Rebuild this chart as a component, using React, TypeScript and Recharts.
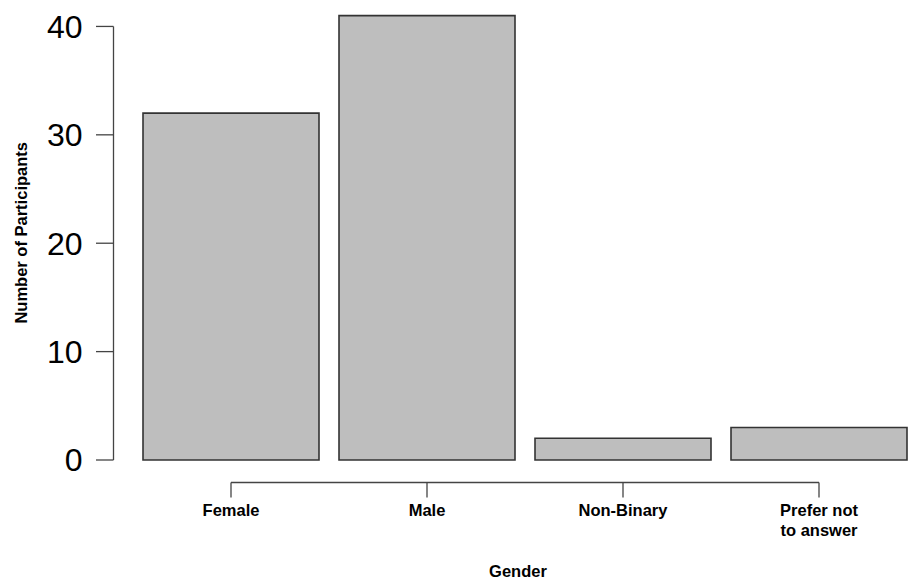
import React from "react";
import { BarChart, Bar, XAxis, YAxis, Label } from "recharts";

const categories = ["Female", "Male", "Non-Binary", "Prefer not to answer"];
const participants = [32, 41, 2, 3];
const tickLabelLines = [["Female"], ["Male"], ["Non-Binary"], ["Prefer not", "to answer"]];
const yTicks = [0, 10, 20, 30, 40];

const data = categories.map((c, i) => ({ name: c, value: participants[i] }));

const FONT = "'Liberation Sans', Arial, Helvetica, sans-serif";
const CHART_W = 940;
const CHART_H = 584;
const Y_AXIS_W = 113.5;
const MARGIN = { top: 15.6, right: 3.5, bottom: 0, left: 0 };
const X_PAD = 19.5;
const PLOT_W = CHART_W - Y_AXIS_W - MARGIN.right;
const BAND = (PLOT_W - 2 * X_PAD) / categories.length;
const AXIS_COLOR = "#444";
const LABEL_SIZE = 16.5;

const CategoryTick = (props: any) => {
  const { x, y, index, payload } = props;
  const last = categories.length - 1;
  const lineY = y + 22.5;
  const left = index > 0 ? x - BAND / 2 : x;
  const right = index < last ? x + BAND / 2 : x;
  const lines = tickLabelLines[index] || [String(payload.value)];
  return (
    <g>
      <line x1={left} x2={right} y1={lineY} y2={lineY} stroke={AXIS_COLOR} strokeWidth={1.3} />
      <line x1={x} x2={x} y1={lineY} y2={lineY + 15} stroke={AXIS_COLOR} strokeWidth={1.3} />
      {lines.map((l, i) => (
        <text
          key={i}
          x={x}
          y={y + 55.5 + i * 20}
          textAnchor="middle"
          fontFamily={FONT}
          fontWeight="bold"
          fontSize={LABEL_SIZE}
          fill="#000"
        >
          {l}
        </text>
      ))}
    </g>
  );
};

export default function App() {
  return (
    <div style={{ position: "absolute", left: 0, top: 0, width: 912, height: 584, overflow: "hidden", background: "#fff" }}>
      <BarChart width={CHART_W} height={CHART_H} data={data} margin={MARGIN} barCategoryGap={10}>
        <XAxis
          dataKey="name"
          height={124}
          padding={{ left: X_PAD, right: X_PAD }}
          axisLine={false}
          tickLine={false}
          tickSize={0}
          tickMargin={0}
          interval={0}
          tick={<CategoryTick />}
        >
          <Label
            content={(p: any) => {
              const vb = p.viewBox;
              return (
                <text
                  x={vb.x + vb.width / 2 - 7}
                  y={577}
                  textAnchor="middle"
                  fontFamily={FONT}
                  fontWeight="bold"
                  fontSize={LABEL_SIZE}
                  fill="#000"
                >
                  Gender
                </text>
              );
            }}
          />
        </XAxis>
        <YAxis
          width={Y_AXIS_W}
          domain={[0, 41]}
          ticks={yTicks}
          interval={0}
          tickSize={17.5}
          tickMargin={13.5}
          axisLine={{ stroke: AXIS_COLOR, strokeWidth: 1.3, strokeDasharray: "0 10.8 434 1000" }}
          tickLine={{ stroke: AXIS_COLOR, strokeWidth: 1.3 }}
          tick={{ fontFamily: FONT, fontSize: 32, fill: "#000" }}
        >
          <Label
            content={(p: any) => {
              const vb = p.viewBox;
              const cx = 21;
              const cy = vb.y + vb.height / 2 - 5;
              return (
                <text
                  x={cx}
                  y={cy}
                  transform={`rotate(-90, ${cx}, ${cy})`}
                  textAnchor="middle"
                  dominantBaseline="central"
                  fontFamily={FONT}
                  fontWeight="bold"
                  fontSize={LABEL_SIZE}
                  fill="#000"
                >
                  Number of Participants
                </text>
              );
            }}
          />
        </YAxis>
        <Bar dataKey="value" fill="#bebebe" stroke="#333" strokeWidth={1.6} isAnimationActive={false} />
      </BarChart>
    </div>
  );
}
